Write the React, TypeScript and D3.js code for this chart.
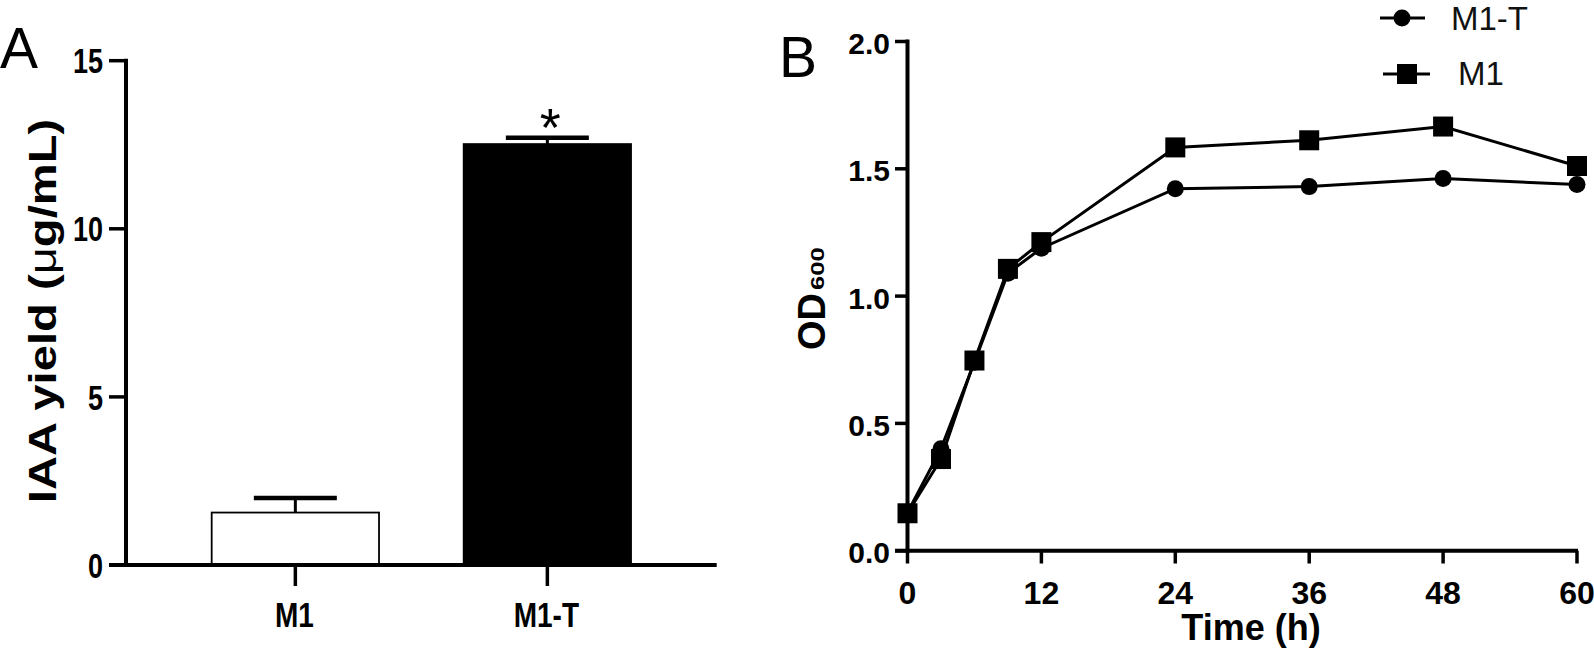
import React from "react";
import * as d3 from "d3";

// ---------- Panel A data ----------
const categoriesA = ["M1", "M1-T"];
const iaaMeans = [1.56, 12.52];
const iaaErrors = [0.43, 0.19];
const yTicksA = [0, 5, 10, 15];

// ---------- Panel B data ----------
const timesB = [0, 3, 6, 9, 12, 24, 36, 48, 60];
const odM1T = [0.15, 0.4, 0.74, 1.09, 1.188, 1.422, 1.43, 1.462, 1.438];
const odM1 = [0.147, 0.36, 0.747, 1.107, 1.212, 1.584, 1.612, 1.666, 1.511];
const xTicksB = [0, 12, 24, 36, 48, 60];
const yTicksB = [0, 0.5, 1.0, 1.5, 2.0];
const seriesNamesB = ["M1-T", "M1"];

const FONT = "'Liberation Sans', Arial, Helvetica, sans-serif";

export default function App() {
  // Panel A scales
  const axA = { left: 126, right: 716.7, top: 60.7, bottom: 565 };
  const xA = d3
    .scaleBand<string>()
    .domain(categoriesA)
    .range([axA.left, axA.right])
    .paddingInner(0.336)
    .paddingOuter(0.34);
  const yA = d3.scaleLinear().domain([0, 15]).range([axA.bottom, axA.top]);
  const capHalf = 41.5;

  // Panel B scales
  const axB = { left: 907.5, right: 1577, top: 41.5, bottom: 550.7 };
  const xB = d3.scaleLinear().domain([0, 60]).range([axB.left, axB.right]);
  const yB = d3.scaleLinear().domain([0, 2]).range([axB.bottom, axB.top]);
  const line = d3
    .line<[number, number]>()
    .x((d) => xB(d[0]))
    .y((d) => yB(d[1]));
  const ptsM1T = timesB.map((t, i) => [t, odM1T[i]] as [number, number]);
  const ptsM1 = timesB.map((t, i) => [t, odM1[i]] as [number, number]);
  const fmtB = d3.format(".1f");
  const sq = 20;
  const cr = 8.5;

  return (
    <svg
      width={1594}
      height={649}
      style={{ position: "absolute", left: 0, top: 0, background: "#fff" }}
      fontFamily={FONT}
    >
      <rect x={0} y={0} width={1594} height={649} fill="#fff" />

      {/* ================= Panel A ================= */}
      <text x={0} y={68} fontSize={57} fill="#000">
        A
      </text>

      {/* bars */}
      {categoriesA.map((c, i) => {
        const x0 = xA(c)!;
        const bw = xA.bandwidth();
        const cx = x0 + bw / 2;
        const yTop = yA(iaaMeans[i]);
        const yErr = yA(iaaMeans[i] + iaaErrors[i]);
        return (
          <g key={c}>
            <line x1={cx} x2={cx} y1={yTop} y2={yErr} stroke="#000" strokeWidth={3} />
            <line
              x1={cx - capHalf}
              x2={cx + capHalf}
              y1={yErr}
              y2={yErr}
              stroke="#000"
              strokeWidth={4.5}
            />
            <rect
              x={x0}
              y={yTop}
              width={bw}
              height={yA(0) - yTop}
              fill={i === 0 ? "#fff" : "#000"}
              stroke="#000"
              strokeWidth={1.8}
            />
          </g>
        );
      })}

      {/* significance star */}
      <text
        x={xA("M1-T")! + xA.bandwidth() / 2 + 3}
        y={yA(iaaMeans[1] + iaaErrors[1]) + 8}
        fontSize={54}
        textAnchor="middle"
        fill="#000"
      >
        *
      </text>

      {/* axes A */}
      <line x1={axA.left} x2={axA.left} y1={axA.top - 2} y2={axA.bottom + 2} stroke="#000" strokeWidth={4} />
      <line x1={109} x2={axA.right} y1={axA.bottom} y2={axA.bottom} stroke="#000" strokeWidth={4} />
      {yTicksA.map((t) => (
        <g key={"ya" + t}>
          <line x1={109} x2={axA.left} y1={yA(t)} y2={yA(t)} stroke="#000" strokeWidth={3.5} />
          <text
            transform={`translate(103,${yA(t) + 12.6}) scale(1,1.3)`}
            fontSize={27}
            fontWeight="bold"
            textAnchor="end"
            fill="#000"
          >
            {t}
          </text>
        </g>
      ))}
      {categoriesA.map((c) => {
        const cx = xA(c)! + xA.bandwidth() / 2;
        return (
          <g key={"xa" + c}>
            <line x1={cx} x2={cx} y1={axA.bottom} y2={586} stroke="#000" strokeWidth={3.5} />
            <text
              transform={`translate(${cx - 1},626.7) scale(1,1.25)`}
              fontSize={28}
              fontWeight="bold"
              textAnchor="middle"
              fill="#000"
            >
              {c}
            </text>
          </g>
        );
      })}
      <text
        transform={`translate(56,311) rotate(-90) scale(1.21,1)`}
        fontSize={39}
        fontWeight="bold"
        textAnchor="middle"
        fill="#000"
      >
        IAA yield (<tspan fontWeight="normal">μ</tspan>g/mL)
      </text>

      {/* ================= Panel B ================= */}
      <text x={779} y={76.6} fontSize={57} fill="#000">
        B
      </text>

      {/* axes B */}
      <line x1={axB.left} x2={axB.left} y1={axB.top - 2} y2={axB.bottom + 2} stroke="#000" strokeWidth={4} />
      <line x1={895} x2={axB.right + 1} y1={axB.bottom} y2={axB.bottom} stroke="#000" strokeWidth={4} />
      {yTicksB.map((t) => (
        <g key={"yb" + t}>
          <line x1={895} x2={axB.left} y1={yB(t)} y2={yB(t)} stroke="#000" strokeWidth={3.5} />
          <text
            x={890}
            y={yB(t) + 12.5}
            fontSize={30}
            fontWeight="bold"
            textAnchor="end"
            fill="#000"
          >
            {fmtB(t)}
          </text>
        </g>
      ))}
      {xTicksB.map((t) => (
        <g key={"xb" + t}>
          <line x1={xB(t)} x2={xB(t)} y1={axB.bottom} y2={563.5} stroke="#000" strokeWidth={3.5} />
          <text x={xB(t)} y={604} fontSize={32} fontWeight="bold" textAnchor="middle" fill="#000">
            {t}
          </text>
        </g>
      ))}
      <text x={1251} y={640} fontSize={36} fontWeight="bold" textAnchor="middle" fill="#000">
        Time (h)
      </text>
      {/* OD600 label */}
      <g transform="translate(825,296) rotate(-90)">
        <text x={-54} y={0} fontSize={38} fontWeight="bold" fill="#000">
          OD
        </text>
        <text transform="translate(6,-1) scale(1.35,1)" fontSize={19} fontWeight="bold" fill="#000">
          600
        </text>
      </g>

      {/* series lines */}
      <path d={line(ptsM1T) || ""} fill="none" stroke="#000" strokeWidth={3} />
      <path d={line(ptsM1) || ""} fill="none" stroke="#000" strokeWidth={3} />
      {ptsM1T.map((p, i) => (
        <circle key={"c" + i} cx={xB(p[0])} cy={yB(p[1])} r={cr} fill="#000" />
      ))}
      {ptsM1.map((p, i) => (
        <rect
          key={"s" + i}
          x={xB(p[0]) - sq / 2}
          y={yB(p[1]) - sq / 2}
          width={sq}
          height={sq}
          fill="#000"
        />
      ))}

      {/* legend */}
      <g>
        <line x1={1380} x2={1425} y1={18} y2={18} stroke="#000" strokeWidth={3} />
        <circle cx={1402} cy={18} r={cr} fill="#000" />
        <text x={1451} y={30} fontSize={33} fill="#111">
          {seriesNamesB[0]}
        </text>
        <line x1={1383} x2={1430} y1={74} y2={74} stroke="#000" strokeWidth={3} />
        <rect x={1407 - sq / 2} y={74 - sq / 2} width={sq} height={sq} fill="#000" />
        <text x={1458} y={85} fontSize={33} fill="#111">
          {seriesNamesB[1]}
        </text>
      </g>
    </svg>
  );
}
